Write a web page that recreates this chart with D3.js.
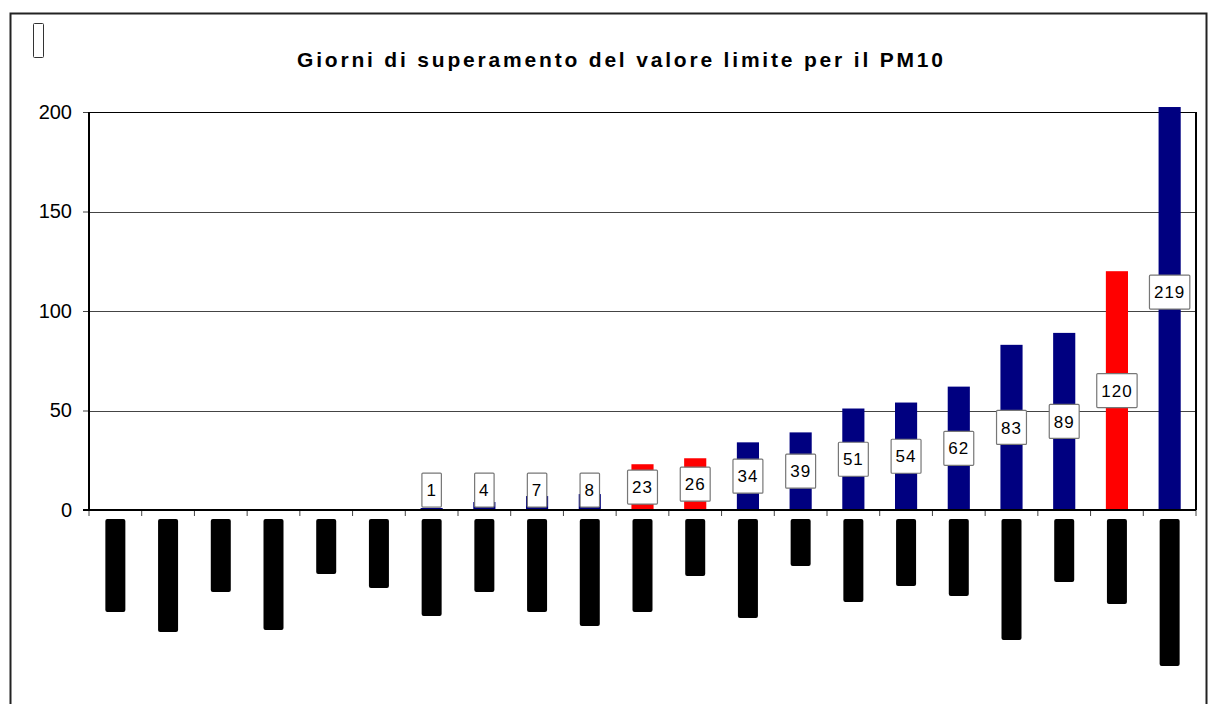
<!DOCTYPE html>
<html>
<head>
<meta charset="utf-8">
<script src="https://cdn.jsdelivr.net/npm/d3@7"></script>
<style>
  body { margin: 0; background: #fff; }
  svg { font-family: "Liberation Sans", Arial, sans-serif; }
</style>
</head>
<body>
<div id="chart"></div>
<script>
// Giorni di superamento PM10 - bar chart, 21 stations sorted by value
const titleText = 'Giorni di superamento del valore limite per il PM10';
const values = [0, 0, 0, 0, 0, 0, 1, 4, 7, 8, 23, 26, 34, 39, 51, 54, 62, 83, 89, 120, 219];
// stations drawn in red in the original
const highlighted = [false, false, false, false, false, false, false, false, false, false,
  true, true, false, false, false, false, false, false, false, true, false];
// category labels render as solid black blocks; their lengths
const labelLen = [93, 113, 73, 111, 55, 69, 97, 73, 93, 107, 93, 57, 99, 47, 83, 67, 77, 121, 63, 85, 147];
const yTicks = [0, 50, 100, 150, 200];

const W = 1208, H = 704;
const plot = { left: 89, right: 1196, top: 112, bottom: 510 };

const svg = d3.select('#chart').append('svg').attr('width', W).attr('height', H);

// outer chart frame
svg.append('rect')
  .attr('x', 10.5).attr('y', 13.5).attr('width', W - 12).attr('height', H)
  .attr('fill', 'none').attr('stroke', '#222').attr('stroke-width', 2);

// missing glyph box top-left
svg.append('rect')
  .attr('x', 33.5).attr('y', 23.5).attr('width', 10).attr('height', 34).attr('rx', 1)
  .attr('fill', 'none').attr('stroke', '#333').attr('stroke-width', 1);

// title, widely spaced like the original
svg.append('text')
  .attr('x', 297).attr('y', 67)
  .attr('textLength', 646).attr('lengthAdjust', 'spacing')
  .style('font-size', '21px').style('font-weight', 'bold')
  .text(titleText);

const x = d3.scaleBand()
  .domain(d3.range(values.length))
  .range([plot.left, plot.right])
  .paddingInner(0.58).paddingOuter(0.29);

const y = d3.scaleLinear().domain([0, 200]).range([plot.bottom, plot.top]);

// gridlines
svg.append('g').selectAll('line').data(yTicks.slice(1)).join('line')
  .attr('x1', plot.left).attr('x2', plot.right)
  .attr('y1', d => Math.round(y(d)) + 0.5).attr('y2', d => Math.round(y(d)) + 0.5)
  .attr('stroke', d => d === 200 ? '#000' : '#444').attr('stroke-width', 1);

// y axis
const yAxis = d3.axisLeft(y).tickValues(yTicks).tickSize(6).tickPadding(11);
const yG = svg.append('g').attr('transform', `translate(${plot.left},0)`).call(yAxis);
yG.select('.domain').remove();
yG.selectAll('.tick line').attr('stroke', '#444');
yG.selectAll('.tick text').style('font-size', '20px').attr('fill', '#000')
  .attr('font-family', '"Liberation Sans", Arial, sans-serif');

// right border of plot area
svg.append('line')
  .attr('x1', plot.right).attr('x2', plot.right)
  .attr('y1', plot.top).attr('y2', plot.bottom)
  .attr('stroke', '#000').attr('stroke-width', 2);

// bars (the tallest one overflows the 200 line slightly, as in Excel)
svg.append('g').selectAll('rect').data(values).join('rect')
  .attr('x', (d, i) => x(i))
  .attr('width', x.bandwidth())
  .attr('y', d => y(Math.min(d, 202.5)))
  .attr('height', d => y(0) - y(Math.min(d, 202.5)))
  .attr('fill', (d, i) => highlighted[i] ? '#ff0000' : '#000080');

// x axis with ticks between categories
const step = x.step();
const boundaries = d3.range(values.length + 1).map(i => plot.left + i * step);
svg.append('g').selectAll('line').data(boundaries).join('line')
  .attr('x1', d => d).attr('x2', d => d)
  .attr('y1', plot.bottom).attr('y2', plot.bottom + 6)
  .attr('stroke', '#444');

svg.append('line')
  .attr('x1', plot.left - 6).attr('x2', plot.right)
  .attr('y1', plot.bottom).attr('y2', plot.bottom)
  .attr('stroke', '#000').attr('stroke-width', 2);
svg.append('line')
  .attr('x1', plot.left).attr('x2', plot.left)
  .attr('y1', plot.top).attr('y2', plot.bottom + 1)
  .attr('stroke', '#000').attr('stroke-width', 2);

// category labels (black blocks)
svg.append('g').selectAll('rect').data(labelLen).join('rect')
  .attr('x', (d, i) => x(i) + x.bandwidth() / 2 - 10)
  .attr('y', 519)
  .attr('width', 20)
  .attr('height', d => d)
  .attr('rx', 2)
  .attr('fill', '#000');

// data labels in white boxes, centred at half the bar height
const lbl = svg.append('g').selectAll('g').data(values.map((v, i) => ({ v, i })).filter(d => d.v > 0))
  .join('g')
  .attr('transform', d => `translate(${x(d.i) + x.bandwidth() / 2},${y(Math.max(d.v / 2, 10))})`);

lbl.append('text')
  .attr('text-anchor', 'middle')
  .attr('dy', '0.36em')
  .style('font-size', '17px').style('letter-spacing', '1px')
  .text(d => d.v);

lbl.each(function () {
  const g = d3.select(this);
  const bb = g.select('text').node().getBBox();
  g.insert('rect', 'text')
    .attr('x', -(bb.width + 9) / 2)
    .attr('y', -17)
    .attr('width', bb.width + 9)
    .attr('height', 34)
    .attr('rx', 1)
    .attr('fill', '#fff')
    .attr('stroke', '#777')
    .attr('stroke-width', 1.2);
});
</script>
</body>
</html>
